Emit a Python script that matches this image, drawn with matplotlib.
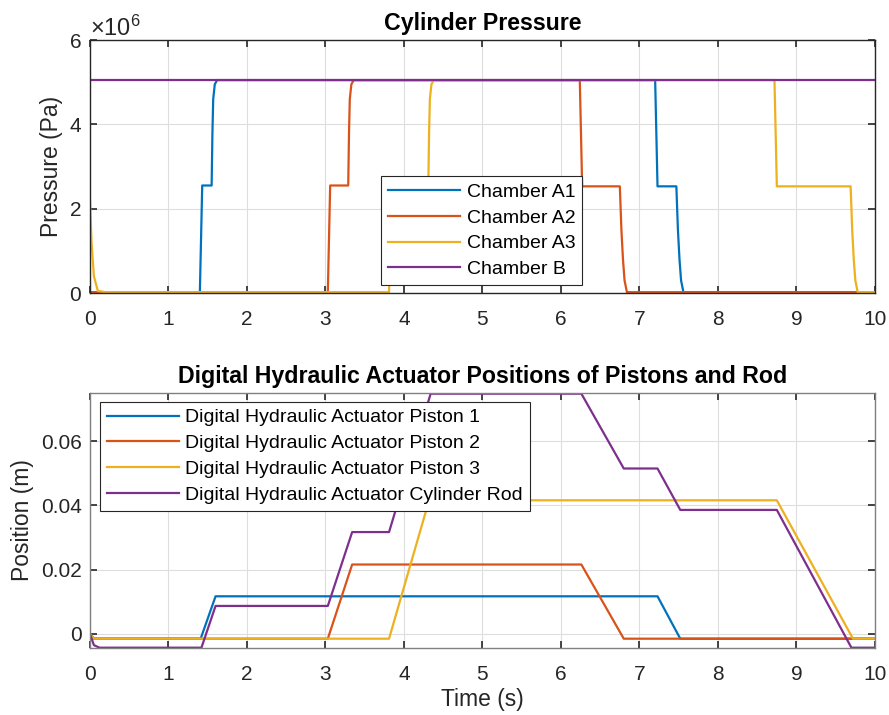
import matplotlib
matplotlib.use("Agg")
import matplotlib.pyplot as plt
from matplotlib.ticker import ScalarFormatter, FuncFormatter

plt.rcParams['font.family'] = ['Liberation Sans', 'DejaVu Sans']
plt.rcParams['mathtext.fontset'] = 'custom'
plt.rcParams['mathtext.rm'] = 'Liberation Sans'
plt.rcParams['mathtext.it'] = 'Liberation Sans'

# MATLAB default line colours
c_blue, c_red, c_yel, c_pur = '#0072BD', '#D95319', '#EDB120', '#7E2F8E'

# ---- cylinder pressure (Pa) ----
a1_t = [0, 1.40, 1.43, 1.55, 1.56, 1.57, 1.59, 1.62, 7.20, 7.23, 7.47, 7.49, 7.51, 7.53, 7.56, 10]
a1_p = [0.02e6, 0.02e6, 2.55e6, 2.55e6, 3.8e6, 4.6e6, 4.95e6, 5.05e6,
        5.05e6, 2.53e6, 2.53e6, 1.5e6, 0.8e6, 0.3e6, 0.02e6, 0.02e6]

a2_t = [0, 3.03, 3.06, 3.29, 3.30, 3.31, 3.33, 3.36, 6.24, 6.27, 6.75, 6.77, 6.79, 6.81, 6.84, 10]
a2_p = [0.02e6, 0.02e6, 2.55e6, 2.55e6, 3.8e6, 4.6e6, 4.95e6, 5.05e6,
        5.05e6, 2.53e6, 2.53e6, 1.5e6, 0.8e6, 0.3e6, 0.02e6, 0.02e6]

a3_t = [0, 0.02, 0.05, 0.10, 0.20, 3.81, 3.84, 4.31, 4.32, 4.33, 4.35, 4.38,
        8.72, 8.75, 9.69, 9.71, 9.73, 9.75, 9.78, 10]
a3_p = [2.2e6, 1.2e6, 0.4e6, 0.05e6, 0.02e6, 0.02e6, 2.55e6, 2.55e6, 3.8e6, 4.6e6, 4.95e6, 5.05e6,
        5.05e6, 2.53e6, 2.53e6, 1.5e6, 0.8e6, 0.3e6, 0.02e6, 0.02e6]

b_t = [0, 10]
b_p = [5.05e6, 5.05e6]

# ---- positions (m) ----
p1_t = [0, 0.05, 1.41, 1.60, 7.23, 7.52, 10]
p1_x = [0, -0.0015, -0.0015, 0.0117, 0.0117, -0.0015, -0.0015]

p2_t = [0, 0.05, 3.03, 3.34, 6.26, 6.80, 10]
p2_x = [0, -0.0015, -0.0015, 0.0216, 0.0216, -0.0015, -0.0015]

p3_t = [0, 0.05, 3.81, 4.32, 8.75, 9.72, 10]
p3_x = [0, -0.0015, -0.0015, 0.0416, 0.0416, -0.0015, -0.0015]

rod_t = [0, 0.05, 0.12, 1.42, 1.60, 3.03, 3.34, 3.81, 4.34, 6.26, 6.80, 7.23, 7.52, 8.75, 9.70, 10]
rod_x = [0, -0.0035, -0.0043, -0.0043, 0.0087, 0.0087, 0.0317, 0.0317, 0.0748, 0.0748,
         0.0515, 0.0515, 0.0386, 0.0386, -0.0043, -0.0043]

press_names = ["Chamber A1", "Chamber A2", "Chamber A3", "Chamber B"]
pos_names = ["Digital Hydraulic Actuator Piston 1", "Digital Hydraulic Actuator Piston 2",
             "Digital Hydraulic Actuator Piston 3", "Digital Hydraulic Actuator Cylinder Rod"]

TICK_FS = 15
LEG_FS = 14
LAB_FS = 16.5
TIT_FS = 16.7


def matlab_style(ax, spine_col):
    for s in ax.spines.values():
        s.set_color(spine_col)
        s.set_linewidth(1.0)
    ax.tick_params(direction='in', length=5, width=1.2, color='#262626',
                   labelsize=TICK_FS, labelcolor='#262626', top=True, right=True)
    ax.tick_params(axis='x', pad=12)
    ax.tick_params(axis='y', pad=6)
    ax.grid(True, color='#dedede', linewidth=0.8)
    ax.set_axisbelow(True)


fig = plt.figure(figsize=(8.89, 7.15), dpi=100)
ax1 = fig.add_axes([0.1012, 0.5902, 0.883, 0.3538])
ax2 = fig.add_axes([0.1012, 0.0937, 0.883, 0.3566])

lw = 1.6
ax1.plot(a1_t, a1_p, color=c_blue, lw=lw, label=press_names[0])
ax1.plot(a2_t, a2_p, color=c_red, lw=lw, label=press_names[1])
ax1.plot(a3_t, a3_p, color=c_yel, lw=lw, label=press_names[2])
ax1.plot(b_t, b_p, color=c_pur, lw=lw, label=press_names[3])
ax1.set_xlim(0, 10)
ax1.set_ylim(0, 6e6)
ax1.set_xticks(range(0, 11))
ax1.set_yticks([0, 2e6, 4e6, 6e6])
fmt = ScalarFormatter(useMathText=True)
fmt.set_powerlimits((0, 0))
ax1.yaxis.set_major_formatter(fmt)
ax1.yaxis.get_offset_text().set_fontsize(17)
ax1.yaxis.get_offset_text().set_color('#262626')
matlab_style(ax1, '#262626')
ax1.set_ylabel("Pressure (Pa)", fontsize=LAB_FS, color='#262626', labelpad=4)
ax1.set_title("Cylinder Pressure", fontsize=TIT_FS, fontweight='bold', pad=7)
leg1 = ax1.legend(loc='lower left', bbox_to_anchor=(0.3707, 0.0316), fontsize=LEG_FS, fancybox=False,
                  framealpha=1, edgecolor='#262626', handlelength=3.7, borderpad=0.35,
                  labelspacing=0.42, handletextpad=0.35, borderaxespad=0)
leg1.get_frame().set_linewidth(0.8)

ax2.plot(p1_t, p1_x, color=c_blue, lw=lw, label=pos_names[0])
ax2.plot(p2_t, p2_x, color=c_red, lw=lw, label=pos_names[1])
ax2.plot(p3_t, p3_x, color=c_yel, lw=lw, label=pos_names[2])
ax2.plot(rod_t, rod_x, color=c_pur, lw=lw, label=pos_names[3])
ax2.set_xlim(0, 10)
ax2.set_ylim(-0.0044, 0.075)
ax2.set_xticks(range(0, 11))
ax2.set_yticks([0, 0.02, 0.04, 0.06])
ax2.yaxis.set_major_formatter(FuncFormatter(lambda v, p: "0" if abs(v) < 1e-12 else f"{v:.2f}"))
matlab_style(ax2, '#808080')
ax2.set_ylabel("Position (m)", fontsize=LAB_FS, color='#262626', labelpad=5)
ax2.set_xlabel("Time (s)", fontsize=LAB_FS, color='#262626', labelpad=3)
ax2.set_title("Digital Hydraulic Actuator Positions of Pistons and Rod", fontsize=TIT_FS,
              fontweight='bold', pad=7)
leg2 = ax2.legend(loc='upper left', bbox_to_anchor=(0.0127, 0.965), fontsize=LEG_FS, fancybox=False,
                  framealpha=1, edgecolor='#262626', handlelength=3.7, borderpad=0.35,
                  labelspacing=0.42, handletextpad=0.35, borderaxespad=0)
leg2.get_frame().set_linewidth(0.8)

fig.savefig("out.png", dpi=100)
